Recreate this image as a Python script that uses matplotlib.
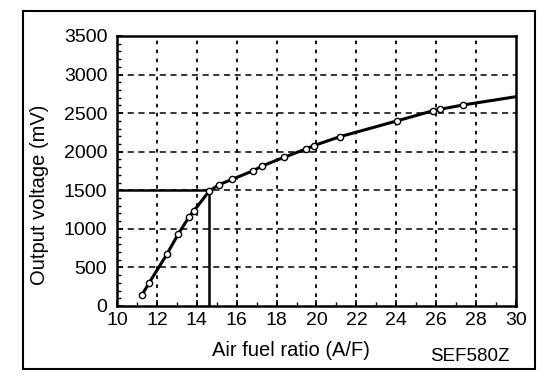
import matplotlib.pyplot as plt
from matplotlib.patches import Rectangle

plt.rcParams['font.family'] = ['Liberation Sans', 'DejaVu Sans']

# measured points (A/F ratio, output mV)
af_ratio = [11.25, 11.6, 12.5, 13.07, 13.6, 13.86, 14.63, 15.12, 15.78, 16.83,
            17.28, 18.37, 19.47, 19.88, 21.18, 24.02, 25.85, 26.19, 27.36]
voltage = [143, 294, 670, 933, 1150, 1236, 1491, 1573, 1642, 1754,
           1815, 1927, 2035, 2080, 2195, 2398, 2532, 2550, 2606]
# curve continues to the right edge without a marker
line_end_x = 30
line_end_v = 2713

stoich_x = 14.63
stoich_v = 1500

x_ticks = [10, 12, 14, 16, 18, 20, 22, 24, 26, 28, 30]
y_ticks = [0, 500, 1000, 1500, 2000, 2500, 3000, 3500]

fig = plt.figure(figsize=(5.6, 3.86), dpi=100)
fig.patches.append(Rectangle((0.041, 0.044), 0.914, 0.9275, transform=fig.transFigure,
                             fill=False, edgecolor='black', linewidth=1.5))
ax = fig.add_axes([0.2089, 0.2073, 0.7125, 0.6995])

ax.plot(af_ratio + [line_end_x], voltage + [line_end_v], color='black', lw=2.2,
        zorder=3)
ax.plot(af_ratio, voltage, linestyle='none', marker='o', markersize=4.5,
        markerfacecolor='white', markeredgecolor='black', markeredgewidth=1.0,
        zorder=4)

# 14.7 reference lines
ax.plot([10, stoich_x], [stoich_v, stoich_v], color='black', lw=1.8, zorder=2)
ax.plot([stoich_x, stoich_x], [0, stoich_v], color='black', lw=1.8, zorder=2)

ax.set_xlim(10, 30)
ax.set_ylim(0, 3500)
ax.set_xticks(x_ticks)
ax.set_yticks(y_ticks)
ax.set_xticks(range(11, 30, 2), minor=True)
ax.set_yticks(range(0, 3501, 100), minor=True)
ax.tick_params(axis='both', which='both', direction='in', labelsize=14)
ax.tick_params(axis='both', which='major', length=4, width=1.2)
ax.tick_params(axis='both', which='minor', length=3, width=1.0)
ax.tick_params(axis='x', pad=4)
ax.tick_params(axis='y', pad=7)

for x in x_ticks[1:-1]:
    ax.axvline(x, color='black', lw=1.3, linestyle=(0, (2, 3)), zorder=1)
for y in y_ticks[1:-1]:
    ax.axhline(y, color='black', lw=1.1, linestyle=(0, (4, 3)), zorder=1)

for s in ax.spines.values():
    s.set_linewidth(1.8)

fig.text(0.071, 0.495, 'Output voltage (mV)', fontsize=14.5, rotation=90,
         ha='center', va='center')
fig.text(0.52, 0.093, 'Air fuel ratio (A/F)', fontsize=14.5, ha='center', va='center')
fig.text(0.839, 0.076, 'SEF580Z', fontsize=13.5, ha='center', va='center')

fig.savefig('out.png', dpi=100)
